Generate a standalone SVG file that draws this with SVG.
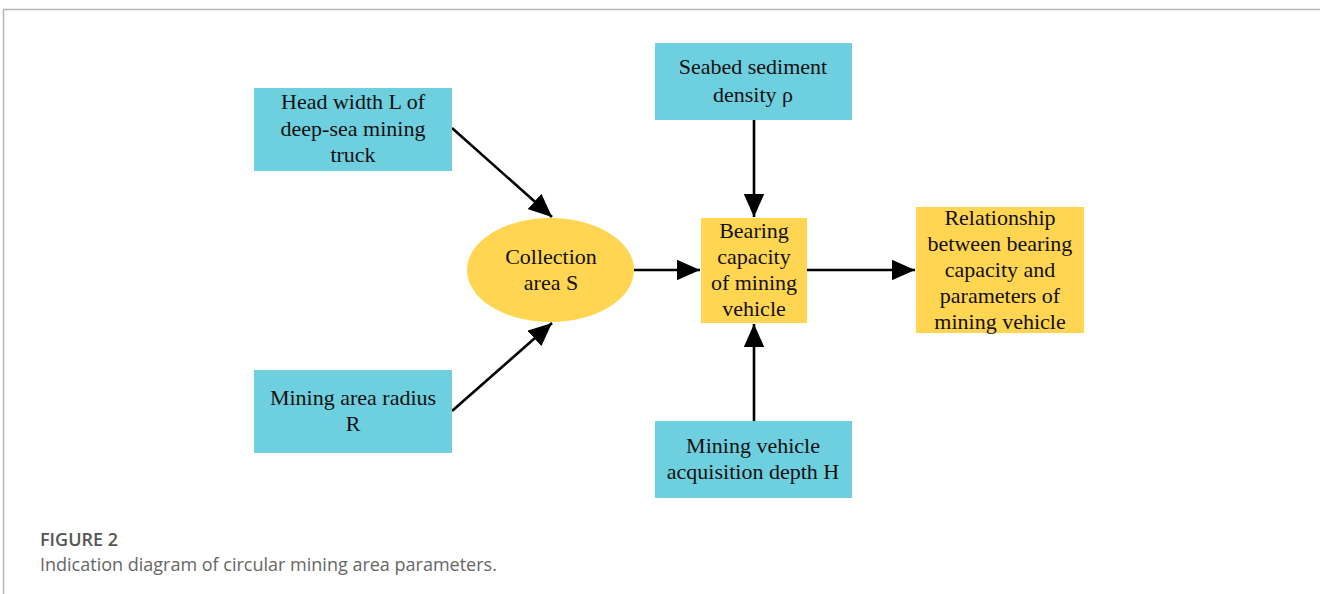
<svg xmlns="http://www.w3.org/2000/svg" width="1320" height="594" viewBox="0 0 1320 594">
<style>
.c{fill:#6ECFDF}
.y{fill:#FFD551}
.t{font-family:"Liberation Serif",serif;font-size:22px;fill:#111;text-anchor:middle}
.e{stroke:#000;stroke-width:2.6;fill:none;marker-end:url(#ah)}
.cap1{font-family:"Open Sans","Noto Sans",sans-serif;font-size:18px;fill:#555;font-weight:600}
.cap2{font-family:"Open Sans","Noto Sans",sans-serif;font-size:18px;fill:#666}
</style>
<defs>
<marker id="ah" markerWidth="9" markerHeight="8" refX="9" refY="4" orient="auto" markerUnits="strokeWidth">
<path d="M0,0 L9,4 L0,8 Z" fill="#000"/>
</marker>
</defs>
<rect width="1320" height="594" fill="#fff"/>
<path d="M3.5,594 V9.5 H1320" fill="none" stroke="#b5b5b5" stroke-width="1.5"/>
<g id="connectors">
<line class="e" x1="452" y1="128" x2="552" y2="217"/>
<line class="e" x1="452" y1="411" x2="552" y2="323"/>
<line class="e" x1="634" y1="270" x2="700" y2="270"/>
<line class="e" x1="754" y1="120" x2="754" y2="217"/>
<line class="e" x1="754" y1="421" x2="754" y2="324"/>
<line class="e" x1="807" y1="270" x2="915" y2="270"/>
</g>
<g id="head">
<rect class="c" x="254" y="88" width="198" height="83"/>
<text class="t" x="353" y="109">Head width L of</text>
<text class="t" x="353" y="136">deep-sea mining</text>
<text class="t" x="353" y="162">truck</text>
</g>
<g id="radius">
<rect class="c" x="254" y="370" width="198" height="83"/>
<text class="t" x="353" y="405">Mining area radius</text>
<text class="t" x="353" y="431">R</text>
</g>
<g id="seabed">
<rect class="c" x="655" y="43" width="197" height="77"/>
<text class="t" x="753" y="74">Seabed sediment</text>
<text class="t" x="753" y="102">density  ρ</text>
</g>
<g id="depth">
<rect class="c" x="655" y="421" width="197" height="77"/>
<text class="t" x="753" y="453">Mining vehicle</text>
<text class="t" x="753" y="479">acquisition depth H</text>
</g>
<g id="collection">
<ellipse class="y" cx="550.5" cy="270" rx="83.5" ry="52"/>
<text class="t" x="551" y="264">Collection</text>
<text class="t" x="551" y="290">area S</text>
</g>
<g id="bearing">
<rect class="y" x="701" y="218" width="106" height="105"/>
<text class="t" x="754" y="238">Bearing</text>
<text class="t" x="754" y="264">capacity</text>
<text class="t" x="754" y="290">of mining</text>
<text class="t" x="754" y="316">vehicle</text>
</g>
<g id="relationship">
<rect class="y" x="916" y="207" width="168" height="126"/>
<text class="t" x="1000" y="225">Relationship</text>
<text class="t" x="1000" y="251">between bearing</text>
<text class="t" x="1000" y="277">capacity and</text>
<text class="t" x="1000" y="303">parameters of</text>
<text class="t" x="1000" y="329">mining vehicle</text>
</g>
<g id="caption">
<text class="cap1" x="40" y="546">FIGURE 2</text>
<text class="cap2" x="40" y="571">Indication diagram of circular mining area parameters.</text>
</g>
</svg>
